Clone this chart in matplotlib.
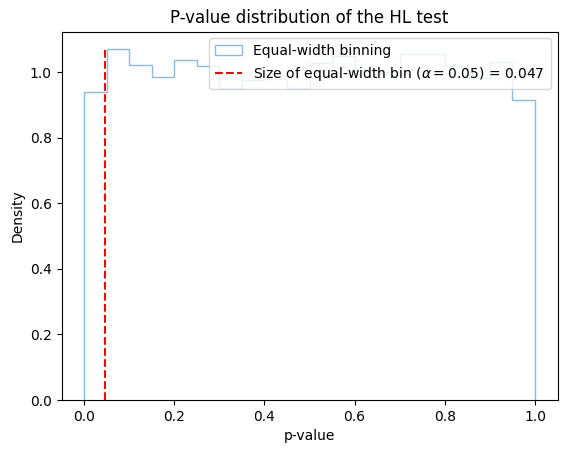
import numpy as np
import matplotlib
matplotlib.use("Agg")
import matplotlib.pyplot as plt

# 20 equal-width bins over [0, 1], density values
bin_edges = np.linspace(0, 1, 21)
density = [0.938, 1.070, 1.022, 0.985, 1.036, 1.019, 0.950, 0.976, 0.978, 0.950,
           1.026, 1.050, 1.005, 1.001, 1.054, 1.054, 1.019, 0.983, 1.031, 0.915]
bin_size = 0.047

fig = plt.figure(figsize=(5.67, 4.53), dpi=100)
ax = fig.add_subplot(111)
fig.subplots_adjust(left=61.5 / 567, right=557.5 / 567, top=1 - 31.5 / 453, bottom=1 - 400 / 453)

ax.hist(bin_edges[:-1], bins=bin_edges, weights=density, histtype='step',
        color='C0', alpha=0.5, label='Equal-width binning')
ax.vlines(bin_size, 0, max(density), colors='red', linestyles='--',
          label=r'Size of equal-width bin ($\alpha=0.05$) = 0.047')

ax.set_title('P-value distribution of the HL test')
ax.set_xlabel('p-value')
ax.set_ylabel('Density')
ax.legend(loc='upper right')

fig.savefig('out.png', dpi=100)
